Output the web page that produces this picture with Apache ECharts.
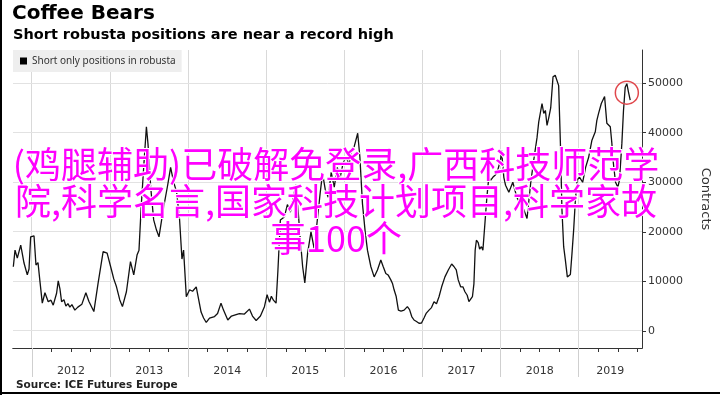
<!DOCTYPE html>
<html><head><meta charset="utf-8">
<script src="https://cdn.jsdelivr.net/npm/echarts@6/dist/echarts.min.js"></script>
<style>html,body{margin:0;padding:0;background:#fff}#c{width:720px;height:395px}</style>
</head><body><div id="c"></div>
<script>
// Weekly dates (decimal years) and short-only positions in robusta (contracts)
const weeks = [
2011.761,2011.783,2011.812,2011.856,2011.898,2011.940,2011.962,2011.983,2012.026,2012.051,
2012.077,2012.102,2012.132,2012.166,2012.208,2012.243,2012.272,2012.315,2012.336,2012.358,
2012.379,2012.409,2012.434,2012.460,2012.485,2012.511,2012.549,2012.587,2012.639,2012.690,
2012.728,2012.792,2012.847,2012.911,2012.962,2013.018,2013.047,2013.082,2013.124,2013.158,
2013.209,2013.261,2013.303,2013.345,2013.370,2013.398,2013.430,2013.465,2013.485,2013.520,
2013.558,2013.593,2013.626,2013.656,2013.686,2013.737,2013.775,2013.814,2013.852,2013.890,
2013.920,2013.941,2013.976,2014.018,2014.056,2014.103,2014.126,2014.165,2014.197,2014.231,
2014.273,2014.337,2014.376,2014.420,2014.452,2014.507,2014.554,2014.593,2014.656,2014.720,
2014.784,2014.823,2014.870,2014.925,2014.976,2015.010,2015.040,2015.065,2015.091,2015.125,
2015.148,2015.180,2015.231,2015.270,2015.308,2015.346,2015.378,2015.404,2015.429,2015.465,
2015.493,2015.529,2015.572,2015.614,2015.657,2015.691,2015.720,2015.755,2015.793,2015.831,
2015.870,2015.908,2015.946,2015.985,2016.023,2016.061,2016.087,2016.125,2016.170,2016.198,
2016.231,2016.266,2016.295,2016.338,2016.381,2016.423,2016.466,2016.496,2016.530,2016.559,
2016.594,2016.617,2016.636,2016.662,2016.691,2016.725,2016.764,2016.806,2016.834,2016.862,
2016.891,2016.923,2016.955,2016.987,2017.019,2017.049,2017.083,2017.115,2017.147,2017.179,
2017.211,2017.245,2017.287,2017.330,2017.373,2017.402,2017.432,2017.457,2017.488,2017.517,
2017.543,2017.572,2017.594,2017.619,2017.639,2017.658,2017.674,2017.690,2017.713,2017.731,
2017.754,2017.773,2017.798,2017.824,2017.849,2017.871,2017.900,2017.935,2017.964,2017.999,
2018.011,2018.041,2018.063,2018.105,2018.156,2018.207,2018.258,2018.296,2018.338,2018.360,
2018.386,2018.424,2018.466,2018.488,2018.530,2018.552,2018.573,2018.594,2018.616,2018.641,
2018.671,2018.699,2018.722,2018.743,2018.765,2018.785,2018.807,2018.829,2018.854,2018.893,
2018.913,2018.935,2018.957,2018.980,2019.011,2019.050,2019.088,2019.126,2019.169,2019.212,
2019.232,2019.254,2019.289,2019.331,2019.360,2019.404,2019.424,2019.439,2019.471,2019.501,
2019.522,2019.552,2019.573,2019.595,2019.616,2019.637,2019.659
];
const shorts = [
12960,16300,14700,17300,13700,11300,12500,19000,19200,13300,
13800,10000,5600,7700,5900,6200,5200,7600,10100,8500,
5900,6300,5000,5500,4800,5300,4200,4800,5400,7700,
6000,3900,9700,16000,15700,12300,10500,8900,6250,4900,
7900,14000,11300,15300,16300,25000,33000,41200,37800,29000,
22400,20400,19000,22000,25000,29400,33000,30000,28000,22400,
14500,16300,6900,8300,8000,8900,8500,3800,2600,1700,
2600,2900,3500,5600,4200,2200,3000,3200,3500,3400,
4400,3000,2100,3000,4900,7300,5800,7000,6200,5600,
12000,22400,23000,25500,24000,27000,29500,25000,19700,13000,
9700,15700,20000,16500,23000,28000,31800,28500,27000,32000,
29000,33000,31000,34000,35100,33500,36500,37200,39900,35100,
25700,20000,16300,13000,10900,12300,14300,13000,11600,11300,
10300,9500,8300,7000,4200,4000,4200,4900,4300,2900,
2200,1900,1550,1600,2600,3600,4200,4700,5900,5500,
6900,8900,10900,12300,13500,13000,12300,10300,8900,8900,
7900,7200,5900,6300,6900,9500,16300,18300,17800,16500,
17000,16300,21500,27000,31100,30400,31000,31500,32500,34500,
36500,31000,29400,28000,30000,27000,25500,24500,22700,23000,
30000,34500,39000,42200,45900,43900,44500,41500,43000,45000,
51300,51600,51600,49500,38000,24500,17000,14300,10900,11400,
15500,20400,26400,30500,31000,30000,33000,35000,38500,40200,
42500,43900,45900,47300,41900,41200,37900,34500,30000,29000,
30500,37800,44500,49200,49900,48200,46600
];
const yearTicks = [2012, 2013, 2014, 2015, 2016, 2017, 2018, 2019];
const yTicks = [0, 10000, 20000, 30000, 40000, 50000];
const seriesName = 'Short only positions in robusta';
const titleText = 'Coffee Bears';
const subtitleText = 'Short robusta positions are near a record high';
const sourceText = 'Source: ICE Futures Europe';
const axisName = 'Contracts';
const overlayText = '(鸡腿辅助)已破解免登录,广西科技师范学\n院,科学名言,国家科技计划项目,科学家故\n事100个';

const xMin = 2011.757, xMax = 2019.81;
const yMin = -3450, yMax = 56700;

const quarters = [];
for (let y = 2011; y <= 2019; y++) for (const q of [0.25, 0.5, 0.75]) {
  const v = y + q; if (v > xMin && v < xMax) quarters.push(v);
}
const labelPos = yearTicks.map(y => (Math.max(y, xMin) + Math.min(y + 1, xMax)) / 2);

const data = weeks.map((w, i) => [w, shorts[i]]);
let peakIdx = 0;
data.forEach((d, i) => { if (d[0] >= 2019.5 && (data[peakIdx][0] < 2019.5 || d[1] > data[peakIdx][1])) peakIdx = i; });

const crisp = v => Math.round(v - 0.5) + 0.5;
const VGRID_COLOR = '#d9d9d9';
const HGRID_COLOR = '#e2e2e2';

const chart = echarts.init(document.getElementById('c'), null, {renderer: 'canvas'});
const FONT = 'DejaVu Sans';
chart.setOption({
  animation: false,
  backgroundColor: '#fff',
  title: [
    {text: titleText, left: 12, top: 4, padding: 0,
     textStyle: {fontFamily: FONT, fontWeight: 'bold', fontSize: 20, color: '#000'}},
    {text: subtitleText, left: 13, top: 28, padding: 0,
     textStyle: {fontFamily: FONT, fontWeight: 'bold', fontSize: 14.5, color: '#000'}}
  ],
  legend: {
    data: [seriesName], left: 13, top: 50, padding: [6, 6, 6, 7],
    backgroundColor: '#eeeeee', icon: 'rect', itemWidth: 7, itemHeight: 7,
    textStyle: {fontFamily: 'Noto Sans', fontSize: 10, color: '#333'}
  },
  grid: {left: 13, right: 76.5, top: 50, bottom: 47},
  xAxis: [
    {type: 'value', min: xMin, max: xMax, position: 'bottom',
     axisLine: {show: true, onZero: false, lineStyle: {color: '#333', width: 1}},
     axisTick: {show: true, customValues: yearTicks, length: 29, lineStyle: {color: '#cfcfcf'}},
     axisLabel: {show: true, customValues: labelPos, margin: 18,
       formatter: v => String(Math.floor(v + 1e-6)),
       fontFamily: FONT, fontSize: 11, color: '#333'},
     splitLine: {show: false}},
    {type: 'value', min: xMin, max: xMax, position: 'bottom', offset: 0,
     axisLine: {show: true, onZero: false, lineStyle: {color: '#333', width: 1}},
     axisTick: {show: true, customValues: quarters, length: 4, lineStyle: {color: '#333'}},
     axisLabel: {show: false}, splitLine: {show: false}}
  ],
  yAxis: {
    type: 'value', position: 'right', min: yMin, max: yMax,
    name: axisName, nameLocation: 'middle', nameRotate: -90, nameGap: 57,
    nameTextStyle: {fontFamily: FONT, fontSize: 13, color: '#333'},
    axisLine: {show: true, onZero: false, lineStyle: {color: '#333', width: 1}},
    axisTick: {show: true, customValues: yTicks, length: 4, lineStyle: {color: '#333'}},
    axisLabel: {customValues: yTicks, margin: 6, formatter: v => String(v),
      fontFamily: FONT, fontSize: 11, color: '#333'},
    splitLine: {show: false}
  },
  series: [
    {
      name: 'vgrid', type: 'custom', z: 1, silent: true, clip: false,
      data: yearTicks.map(v => [v, yMin]), encode: {x: 0, y: 1},
      renderItem: (params, api) => {
        const top = api.coord([api.value(0), yMax]);
        const bot = api.coord([api.value(0), yMin]);
        const x = crisp(top[0]);
        return {type: 'line', shape: {x1: x, y1: top[1], x2: x, y2: bot[1]},
                style: {stroke: VGRID_COLOR, lineWidth: 1}};
      }
    },
    {
      name: 'hgrid', type: 'custom', z: 1, silent: true, clip: false,
      data: yTicks.map(v => [xMin, v]), encode: {x: 0, y: 1},
      renderItem: (params, api) => {
        const l = api.coord([xMin, api.value(1)]);
        const r = api.coord([xMax, api.value(1)]);
        const y = crisp(l[1]);
        return {type: 'line', shape: {x1: l[0], y1: y, x2: r[0], y2: y},
                style: {stroke: HGRID_COLOR, lineWidth: 1}};
      }
    },
    {
      name: seriesName, type: 'line', data: data, xAxisIndex: 0, z: 3,
      showSymbol: false, symbol: 'none', itemStyle: {color: '#000'},
      lineStyle: {color: '#111', width: 1.3},
      markPoint: {
        symbol: 'circle', symbolSize: 23, symbolOffset: [0, 9], silent: true,
        itemStyle: {color: 'rgba(0,0,0,0)', borderColor: '#e0474c', borderWidth: 1.5},
        label: {show: false},
        data: [{coord: data[peakIdx]}]
      }
    }
  ],
  graphic: [
    {type: 'text', left: 16, top: 380,
     style: {text: sourceText, fill: '#222', font: 'bold 10.5px "DejaVu Sans"'}},
    {type: 'text', x: 336, y: 201, z: 100,
     style: {text: overlayText, fill: '#ff00ff', stroke: '#ffffff', lineWidth: 2,
       font: '36px "Noto Sans CJK SC"', align: 'center', verticalAlign: 'middle', lineHeight: 37}},
    {type: 'rect', shape: {x: 0, y: 0, width: 2, height: 395}, style: {fill: '#000'}, z: 100},
    {type: 'rect', shape: {x: 0, y: 392, width: 720, height: 2}, style: {fill: '#000'}, z: 100}
  ]
});
</script>
</body></html>
